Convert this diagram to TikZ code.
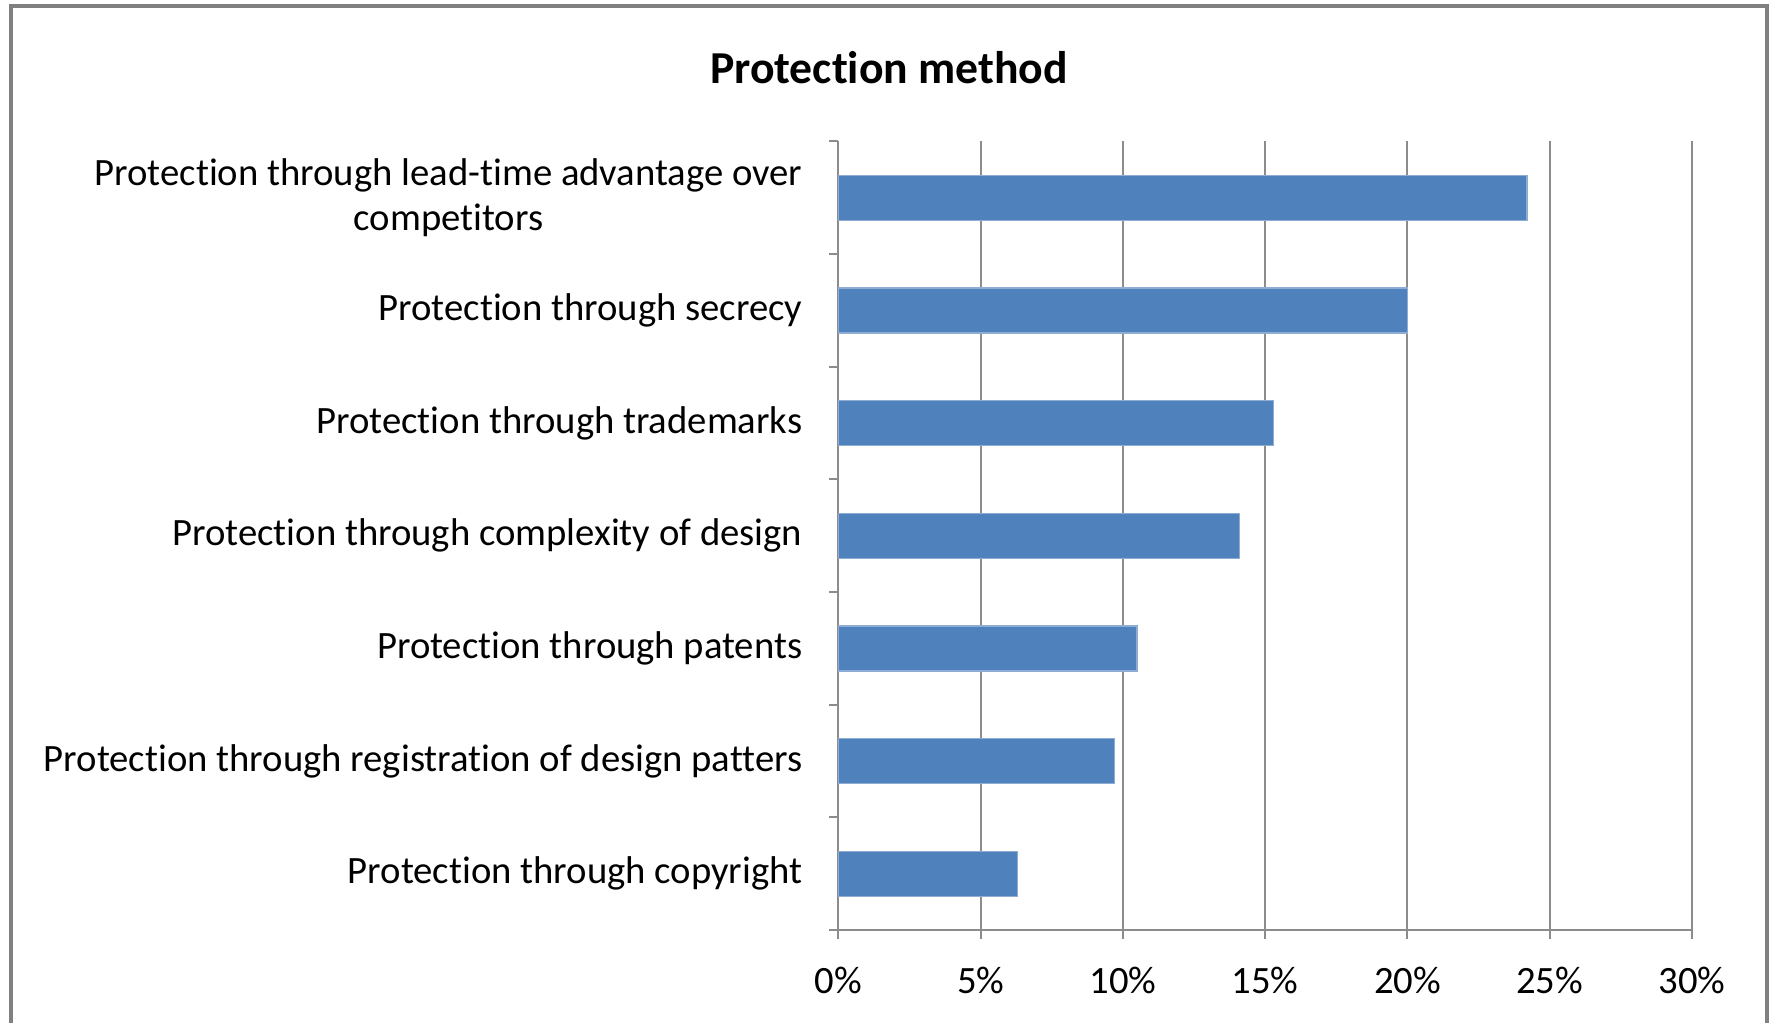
\documentclass[tikz,border=0pt]{standalone}
\usepackage{fontspec}
\setmainfont[Ligatures={NoCommon,NoContextual,NoRare}]{Carlito}
\usepackage{xcolor}
\usetikzlibrary{positioning}
\definecolor{barblue}{RGB}{79,129,189}
\definecolor{gridgray}{RGB}{140,140,140}
\definecolor{framegray}{RGB}{128,128,128}
% 坐标: 左轴位置与每 1% 的宽度
\def\xo{838.4}
\def\xs{28.45}
\begin{document}
\begin{tikzpicture}[x=0.01cm, y=-0.01cm,
        bar/.style={fill=barblue, draw=barblue!65!white, line width=0.4pt},
        gridline/.style={draw=gridgray, line width=0.6pt},
        catlab/.style={anchor=east, inner sep=0pt, align=center, font=\fontsize{11}{12.9}\selectfont},
        ticklab/.style={inner sep=0pt, font=\fontsize{11}{13}\selectfont},
        charttitle/.style={inner sep=0pt, font=\fontsize{13}{15}\selectfont\bfseries}
    ]
        % 边界
        \useasboundingbox (0,0) rectangle (1774,1023);
        \fill[white] (0,0) rectangle (1774,1023);
        \draw[framegray, line width=1.1pt] (11,1023) -- (11,6) -- (1767,6) -- (1767,1023);

        % 标题
        \node[charttitle] (title) at (889,68) {Protection method};

        % 网格线
        \foreach \v in {5,10,...,30}
            \draw[gridline] ({\xo+\v*\xs},141.4) -- ({\xo+\v*\xs},939);

        % 坐标轴
        \coordinate (ytop) at (\xo,141.4);
        \coordinate (origin) at (\xo,930);
        \coordinate (xend) at ({\xo+30*\xs},930);
        \draw[gridline] (ytop) -- (\xo,939);
        \draw[gridline] (829,930) -- (xend);
        \foreach \j in {0,...,6}
            \draw[gridline] (829,{141.4+\j*112.66}) -- (\xo,{141.4+\j*112.66});

        % 条形
        \draw[bar] (\xo,175.2) rectangle ({\xo+24.2*\xs},220.2);
        \draw[bar] (\xo,287.9) rectangle ({\xo+20.0*\xs},332.9);
        \draw[bar] (\xo,400.6) rectangle ({\xo+15.3*\xs},445.6);
        \draw[bar] (\xo,513.2) rectangle ({\xo+14.1*\xs},558.2);
        \draw[bar] (\xo,625.9) rectangle ({\xo+10.5*\xs},670.9);
        \draw[bar] (\xo,738.5) rectangle ({\xo+9.7*\xs},783.5);
        \draw[bar] (\xo,851.2) rectangle ({\xo+6.3*\xs},896.2);

        % 类别标签
        \node[catlab] (lead) at (803,197.7) {Protection through lead-time advantage over\\competitors};
        \node[catlab] (secrecy) at (803,310.4) {Protection through secrecy};
        \node[catlab] (trademarks) at (803,423.1) {Protection through trademarks};
        \node[catlab] (complexity) at (803,535.7) {Protection through complexity of design};
        \node[catlab] (patents) at (803,648.4) {Protection through patents};
        \node[catlab] (registration) at (803,761.0) {Protection through registration of design patters};
        \node[catlab] (copyright) at (803,873.7) {Protection through copyright};

        % 刻度标签
        \foreach \v in {0,5,...,30}
            \node[ticklab] (tick\v) at ({\xo+\v*\xs},980) {\v\%};
    \end{tikzpicture}
\end{document}
